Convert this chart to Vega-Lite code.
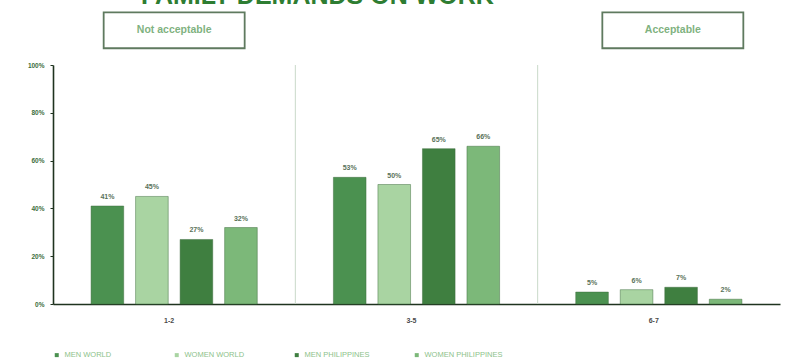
{
  "$schema": "https://vega.github.io/schema/vega-lite/v6.json",
  "width": 727,
  "height": 239,
  "autosize": {"type": "none"},
  "padding": {"left": 53, "top": 65, "right": 7, "bottom": 58},
  "background": "white",
  "title": {
    "text": "FAMILY DEMANDS ON WORK",
    "fontSize": 25,
    "fontWeight": "bold",
    "font": "Liberation Sans",
    "color": "#2e7d32",
    "anchor": "start",
    "frame": "group",
    "dx": 88,
    "offset": 0,
    "dy": -3
  },
  "datasets": {
    "bars": [
      {"g": "1-2", "series": "MEN WORLD", "v": 0.41},
      {"g": "1-2", "series": "WOMEN WORLD", "v": 0.45},
      {"g": "1-2", "series": "MEN PHILIPPINES", "v": 0.27},
      {"g": "1-2", "series": "WOMEN PHILIPPINES", "v": 0.32},
      {"g": "3-5", "series": "MEN WORLD", "v": 0.53},
      {"g": "3-5", "series": "WOMEN WORLD", "v": 0.50},
      {"g": "3-5", "series": "MEN PHILIPPINES", "v": 0.65},
      {"g": "3-5", "series": "WOMEN PHILIPPINES", "v": 0.66},
      {"g": "6-7", "series": "MEN WORLD", "v": 0.05},
      {"g": "6-7", "series": "WOMEN WORLD", "v": 0.06},
      {"g": "6-7", "series": "MEN PHILIPPINES", "v": 0.07},
      {"g": "6-7", "series": "WOMEN PHILIPPINES", "v": 0.02}
    ],
    "seps": [{"g": "3-5"}, {"g": "6-7"}],
    "boxes": [
      {"g": "1-2", "label": "Not acceptable", "lo": 1.07, "hi": 1.22, "mid": 1.145},
      {"g": "6-7", "label": "Acceptable", "lo": 1.07, "hi": 1.22, "mid": 1.145}
    ]
  },
  "config": {
    "view": {"stroke": null},
    "font": "Liberation Sans"
  },
  "layer": [
    {
      "data": {"name": "seps"},
      "mark": {"type": "rule", "color": "#c9d9c9", "strokeWidth": 1},
      "encoding": {
        "x": {"field": "g", "type": "nominal", "bandPosition": 0, "sort": ["1-2", "3-5", "6-7"], "scale": {"domain": ["1-2", "3-5", "6-7"], "paddingInner": 0, "paddingOuter": 0}},
        "y": {"datum": 0, "type": "quantitative", "scale": {"domain": [0, 1], "nice": false}},
        "y2": {"datum": 1}
      }
    },
    {
      "data": {"name": "bars"},
      "mark": {"type": "bar", "stroke": "#3d6b3d", "strokeWidth": 0.8, "strokeOpacity": 0.6},
      "encoding": {
        "x": {
          "field": "g", "type": "nominal", "sort": ["1-2", "3-5", "6-7"],
          "axis": {"title": null, "labelAngle": 0, "labelFontSize": 7, "labelFontWeight": "bold", "labelColor": "#4a4a4a", "labelPadding": 16, "ticks": false, "grid": false, "domainColor": "#1f331f", "domainWidth": 1.6}
        },
        "xOffset": {
          "field": "series", "type": "nominal",
          "sort": ["MEN WORLD", "WOMEN WORLD", "MEN PHILIPPINES", "WOMEN PHILIPPINES"],
          "scale": {"paddingInner": 0.267, "paddingOuter": 0.855}
        },
        "y": {
          "field": "v", "type": "quantitative",
          "scale": {"domain": [0, 1], "nice": false},
          "axis": {"title": null, "values": [0, 0.2, 0.4, 0.6, 0.8, 1], "format": ".0%", "labelFontSize": 6.5, "labelFontWeight": "bold", "labelColor": "#3c6e3c", "tickSize": 3, "tickColor": "#1f331f", "domainColor": "#1f331f", "domainWidth": 1.6, "gridColor": "#e8e8e8", "labelPadding": 6}
        },
        "color": {
          "field": "series", "type": "nominal",
          "sort": ["MEN WORLD", "WOMEN WORLD", "MEN PHILIPPINES", "WOMEN PHILIPPINES"],
          "scale": {"domain": ["MEN WORLD", "WOMEN WORLD", "MEN PHILIPPINES", "WOMEN PHILIPPINES"], "range": ["#4b9150", "#a9d4a2", "#3f7f40", "#7cb879"]},
          "legend": {"title": null, "orient": "bottom", "direction": "horizontal", "columns": 4, "gridAlign": "all", "columnPadding": 30, "symbolType": "square", "symbolSize": 16, "symbolStrokeWidth": 0, "labelFontSize": 7.5, "labelColor": "#8cc28a", "offset": 28, "labelLimit": 200}
        }
      }
    },
    {
      "data": {"name": "bars"},
      "mark": {"type": "text", "dy": -9, "fontSize": 7, "fontWeight": "bold", "color": "#5a725a"},
      "encoding": {
        "x": {"field": "g", "type": "nominal", "sort": ["1-2", "3-5", "6-7"]},
        "xOffset": {"field": "series", "type": "nominal", "sort": ["MEN WORLD", "WOMEN WORLD", "MEN PHILIPPINES", "WOMEN PHILIPPINES"]},
        "y": {"field": "v", "type": "quantitative"},
        "text": {"field": "v", "type": "quantitative", "format": ".0%"}
      }
    },
    {
      "data": {"name": "boxes"},
      "transform": [{"filter": "datum.g === '1-2'"}],
      "layer": [
        {
          "mark": {"type": "bar", "width": 141, "fill": "white", "stroke": "#5f7a5f", "strokeWidth": 1.8, "clip": false},
          "encoding": {
            "x": {"field": "g", "type": "nominal"},
            "y": {"field": "lo", "type": "quantitative"},
            "y2": {"field": "hi"}
          }
        },
        {
          "mark": {"type": "text", "fontSize": 10.5, "fontWeight": "bold", "color": "#7fb27f", "clip": false},
          "encoding": {
            "x": {"field": "g", "type": "nominal"},
            "y": {"field": "mid", "type": "quantitative"},
            "text": {"field": "label"}
          }
        }
      ]
    },
    {
      "data": {"name": "boxes"},
      "transform": [{"filter": "datum.g === '6-7'"}],
      "layer": [
        {
          "mark": {"type": "bar", "width": 141, "xOffset": 14, "fill": "white", "stroke": "#5f7a5f", "strokeWidth": 1.8, "clip": false},
          "encoding": {
            "x": {"field": "g", "type": "nominal"},
            "y": {"field": "lo", "type": "quantitative"},
            "y2": {"field": "hi"}
          }
        },
        {
          "mark": {"type": "text", "xOffset": 14, "fontSize": 10.5, "fontWeight": "bold", "color": "#7fb27f", "clip": false},
          "encoding": {
            "x": {"field": "g", "type": "nominal"},
            "y": {"field": "mid", "type": "quantitative"},
            "text": {"field": "label"}
          }
        }
      ]
    }
  ]
}
